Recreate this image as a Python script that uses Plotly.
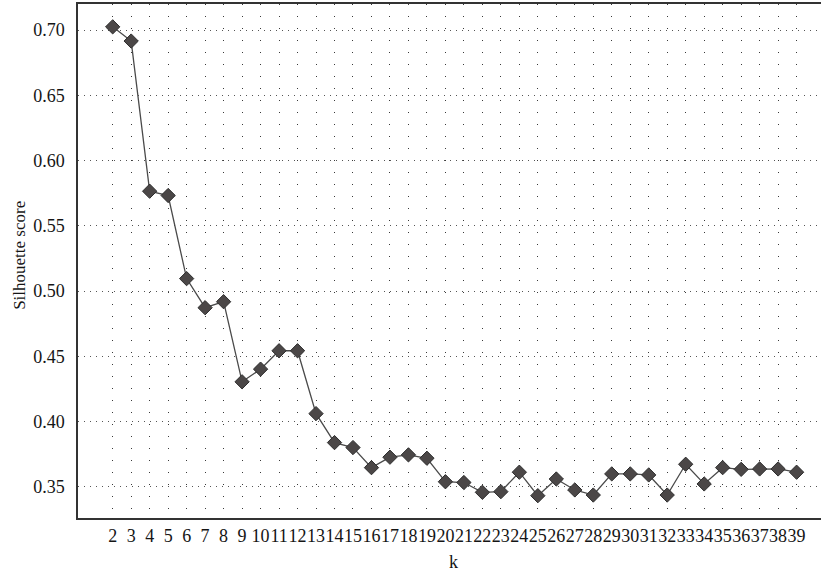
import plotly.graph_objects as go

# Silhouette score for each number of clusters k
k_values = list(range(2, 40))
silhouette = [
    0.7025, 0.6916, 0.5765, 0.5732, 0.5095, 0.4872, 0.4918, 0.4304, 0.4401,
    0.4542, 0.4542, 0.4060, 0.3838, 0.3800, 0.3646, 0.3726, 0.3744, 0.3718,
    0.3538, 0.3532, 0.3457, 0.3462, 0.3611, 0.3431, 0.3559, 0.3475, 0.3436,
    0.3598, 0.3598, 0.3590, 0.3436, 0.3672, 0.3521, 0.3646, 0.3633, 0.3636,
    0.3636, 0.3611,
]
x_tick_labels = [str(k) for k in k_values]
y_tick_values = [0.35, 0.40, 0.45, 0.50, 0.55, 0.60, 0.65, 0.70]

FONT = "Liberation Serif, DejaVu Serif, serif"
TEXT = "#151515"

fig = go.Figure()
fig.add_trace(go.Scatter(
    x=k_values,
    y=silhouette,
    mode="lines+markers",
    line=dict(color="#4a4a4a", width=1.3),
    marker=dict(symbol="diamond", size=11, color="#4b4747",
                line=dict(color="#2e2e2e", width=1)),
    showlegend=False,
))

fig.update_layout(
    width=821,
    height=571,
    margin=dict(l=78, r=0, t=4, b=53),
    paper_bgcolor="white",
    plot_bgcolor="white",
    font=dict(family=FONT, size=18, color=TEXT),
    xaxis=dict(
        range=[0.123, 40.32],
        tickmode="array",
        tickvals=k_values,
        ticktext=x_tick_labels,
        tickangle=0,
        ticks="outside",
        ticklen=1,
        tickcolor="rgba(0,0,0,0)",
        showline=True,
        linecolor="#333",
        linewidth=1.5,
        mirror=True,
        showgrid=True,
        gridcolor="#3a3a3a",
        gridwidth=1,
        griddash="1px,11px",
        zeroline=False,
        tickfont=dict(family=FONT, size=18, color=TEXT),
    ),
    yaxis=dict(
        range=[0.326, 0.72],
        tickmode="array",
        tickvals=y_tick_values,
        tickformat=".2f",
        ticks="outside",
        ticklen=8,
        tickcolor="rgba(0,0,0,0)",
        showline=True,
        linecolor="#333",
        linewidth=1.5,
        showgrid=True,
        gridcolor="#555",
        gridwidth=1,
        griddash="1px,5px",
        zeroline=False,
        tickfont=dict(family=FONT, size=18, color=TEXT),
    ),
    annotations=[
        dict(text="Silhouette score", xref="paper", yref="paper",
             x=0, y=0.51, xshift=-58, textangle=-90, showarrow=False,
             xanchor="center", yanchor="middle",
             font=dict(family=FONT, size=17, color=TEXT)),
        dict(text="k", xref="paper", yref="paper",
             x=0.506, y=0, yshift=-44, showarrow=False,
             xanchor="center", yanchor="middle",
             font=dict(family=FONT, size=18, color=TEXT)),
    ],
)

fig.write_html("out.html")
